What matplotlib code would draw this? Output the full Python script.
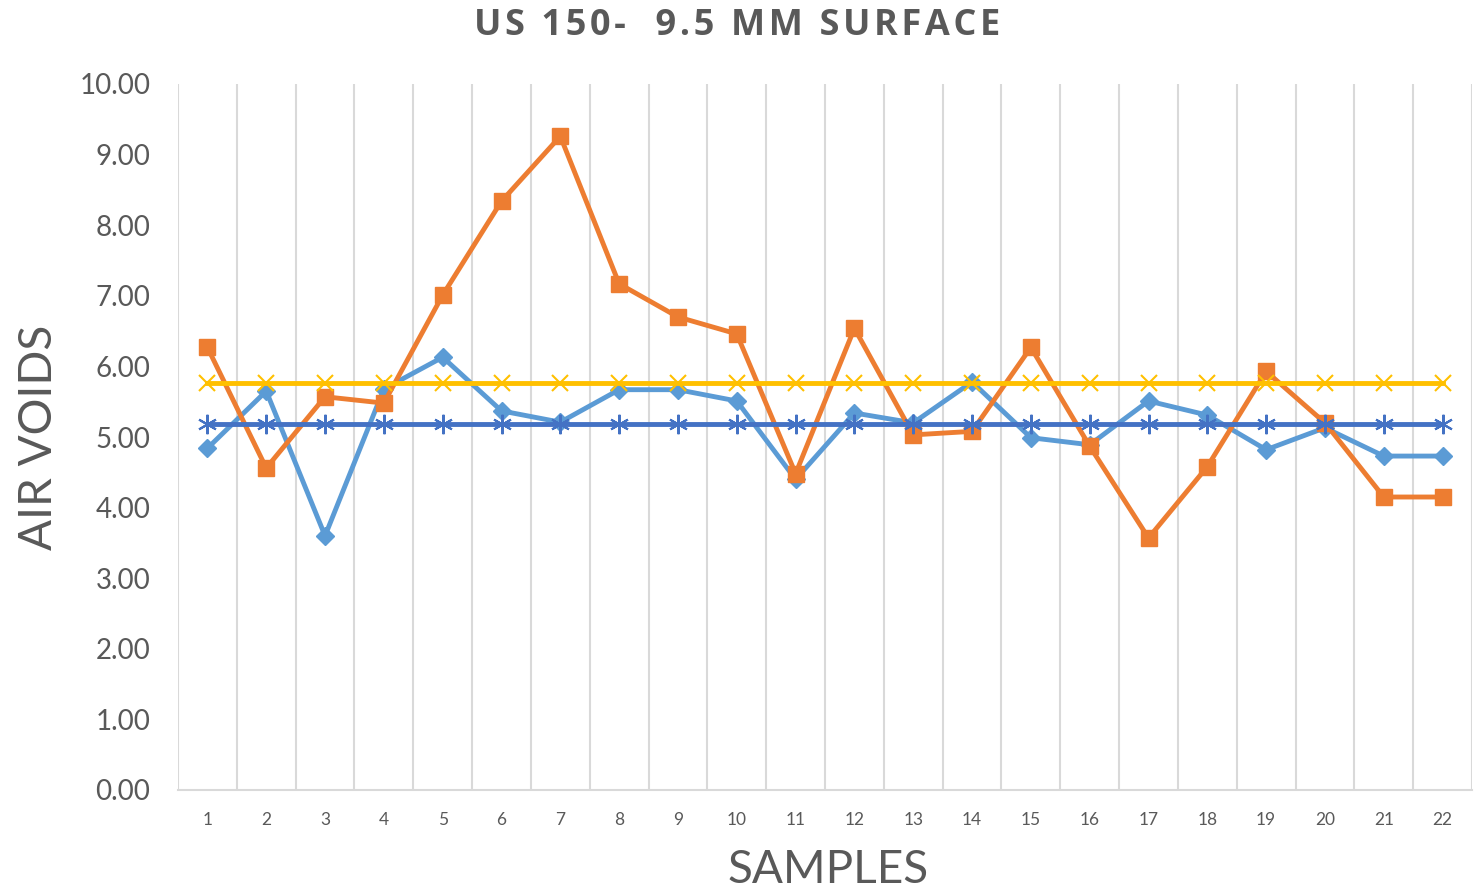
import matplotlib
matplotlib.use("Agg")
import matplotlib.pyplot as plt

# sample numbers on the x axis
samples = list(range(1, 23))

# air voids
voids_a = [4.84, 5.65, 3.60, 5.68, 6.13, 5.37, 5.21, 5.67, 5.67, 5.51, 4.40,
           5.34, 5.20, 5.78, 4.99, 4.89, 5.51, 5.31, 4.82, 5.13, 4.73, 4.73]
voids_b = [6.27, 4.56, 5.57, 5.48, 7.01, 8.34, 9.26, 7.17, 6.70, 6.46, 4.48,
           6.54, 5.03, 5.08, 6.27, 4.87, 3.57, 4.58, 5.93, 5.20, 4.15, 4.15]
# flat reference lines
avg_a = 5.19
avg_b = 5.76

TEXT = "#595959"

fig = plt.figure(figsize=(14.81, 8.93), dpi=100)
ax = fig.add_axes([178 / 1481, 1 - 790 / 893, (1472 - 178) / 1481, (790 - 84) / 893])

n = len(samples)
x = list(range(n))
ax.plot(x, voids_a, color="#5B9BD5", lw=3.5, marker="D", ms=9, zorder=3)
ax.plot(x, voids_b, color="#ED7D31", lw=3.5, marker="s", ms=12, zorder=4)
ax.plot(x, [avg_a] * n, color="#4472C4", lw=3.5, marker=(6, 2, 0), ms=14,
        mew=1.5, zorder=5)
ax.plot(x, [avg_b] * n, color="#FFC000", lw=3.5, marker="x", ms=12,
        mew=1.5, zorder=6)

ax.set_xlim(-0.5, n - 0.5)
ax.set_ylim(0, 10)
ax.set_yticks([i for i in range(11)])
ax.set_yticklabels([f"{i:.2f}" for i in range(11)], fontsize=20,
                   color=TEXT, family="Lato")
ax.set_xticks(x)
ax.set_xticklabels([str(s) for s in samples], fontsize=12.5,
                   color=TEXT, family="Lato")
ax.tick_params(axis="both", length=0)
ax.tick_params(axis="x", pad=16)
ax.tick_params(axis="y", pad=20)

ax.set_xticks([i + 0.5 for i in range(-1, n)], minor=True)
ax.tick_params(axis="x", which="minor", length=0)
ax.grid(axis="x", which="minor", color="#d9d9d9", lw=1.5)
ax.grid(axis="x", which="major", visible=False)

for side in ["top", "right", "left"]:
    ax.spines[side].set_visible(False)
ax.spines["bottom"].set_color("#d9d9d9")
ax.spines["bottom"].set_linewidth(1.5)

title = "\u200a".join("US 150-  9.5 MM SURFACE")
fig.text(737 / 1481, 1 - 26 / 893, title, ha="center", va="center",
         fontsize=26, fontweight="bold", color=TEXT,
         family=["Open Sans", "DejaVu Sans"])
ax.set_ylabel("AIR VOIDS", fontsize=33, color=TEXT, family="Lato", labelpad=14)
fig.text(828 / 1481, 1 - 870 / 893, "SAMPLES", ha="center", va="center",
         fontsize=33, color=TEXT, family="Lato")

fig.savefig("out.png", dpi=100)
